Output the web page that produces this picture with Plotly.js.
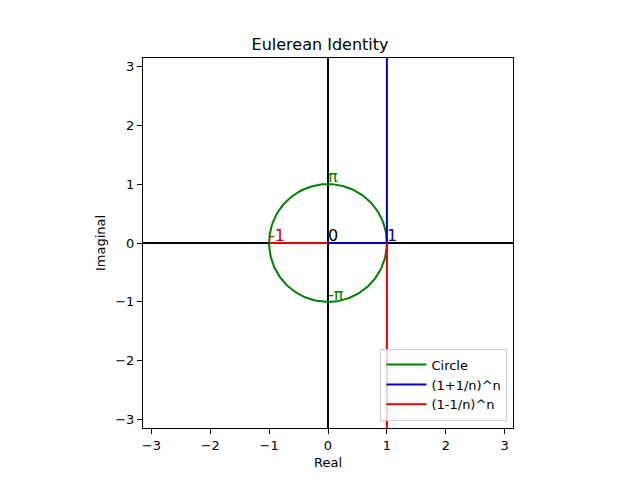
<!DOCTYPE html>
<html>
<head>
<meta charset="utf-8">
<script src="https://cdn.plot.ly/plotly-3.0.1.min.js"></script>
<style>body{margin:0;background:#fff}#plot{width:640px;height:480px}</style>
</head>
<body>
<div id="plot"></div>
<script>
// unit circle
const circleRadius = 1;
const circleSteps = 200;

// (1+1/n)^n path
const plusX = [0, 1, 1];
const plusY = [0, 0, 4];

// (1-1/n)^n path
const minusX = [-1, 0, null, 1, 1];
const minusY = [0, 0, null, 0, -4];

// point labels
const labelX = [0, 1, -1, 0, 0];
const labelY = [0, 0, 0, 1, -1];
const labelText = ['0', '1', '-1', 'π', '-π'];
const labelColor = ['black', '#0000cd', '#e00000', 'green', 'green'];

const tickVals = [-3, -2, -1, 0, 1, 2, 3];
const tickText = ['\u22123', '\u22122', '\u22121', '0', '1', '2', '3'];

const cx = [], cy = [];
for (let i = 0; i <= circleSteps; i++) {
    const t = 2 * Math.PI * i / circleSteps;
    cx.push(circleRadius * Math.cos(t));
    cy.push(circleRadius * Math.sin(t));
}

const font = {family: 'DejaVu Sans', size: 13, color: 'black'};

const traces = [
    {x: cx, y: cy, mode: 'lines', name: 'Circle', line: {color: 'green', width: 2}},
    {x: plusX, y: plusY, mode: 'lines', name: '(1+1/n)^n', line: {color: '#0000cd', width: 2}},
    {x: minusX, y: minusY, mode: 'lines', name: '(1-1/n)^n', line: {color: '#e00000', width: 2}, connectgaps: false}
];

const annotations = labelText.map((t, i) => ({
    x: labelX[i], y: labelY[i], text: t, showarrow: false,
    xanchor: 'left', yanchor: 'bottom', xshift: -2, yshift: -4,
    font: {family: 'DejaVu Sans', size: 16, color: labelColor[i]}
}));

const axis = {
    range: [-Math.PI, Math.PI],
    tickvals: tickVals, ticktext: tickText,
    ticks: 'outside', ticklen: 5, tickcolor: 'black',
    showline: true, mirror: true, linecolor: 'black', linewidth: 1,
    showgrid: false,
    zeroline: true, zerolinecolor: 'black', zerolinewidth: 2,
    tickfont: font
};

const layout = {
    width: 640, height: 480,
    margin: {l: 143, r: 127, t: 58, b: 52},
    paper_bgcolor: 'white', plot_bgcolor: 'white',
    font: font,
    title: {text: 'Eulerean Identity', font: {family: 'DejaVu Sans', size: 16, color: 'black'},
        x: 0.5, xanchor: 'center', yref: 'container', y: 0.908, yanchor: 'middle'},
    xaxis: Object.assign({}, axis, {title: {text: 'Real', font: font, standoff: 6}}),
    yaxis: Object.assign({}, axis, {title: {text: 'Imaginal', font: font, standoff: 6}}),
    showlegend: true,
    legend: {
        x: 0.985, y: 0.02, xanchor: 'right', yanchor: 'bottom',
        bgcolor: 'rgba(255,255,255,0.8)', bordercolor: '#cccccc', borderwidth: 1,
        font: font, tracegroupgap: 0, itemwidth: 40
    },
    annotations: annotations
};

Plotly.newPlot('plot', traces, layout, {displayModeBar: false});
</script>
</body>
</html>
